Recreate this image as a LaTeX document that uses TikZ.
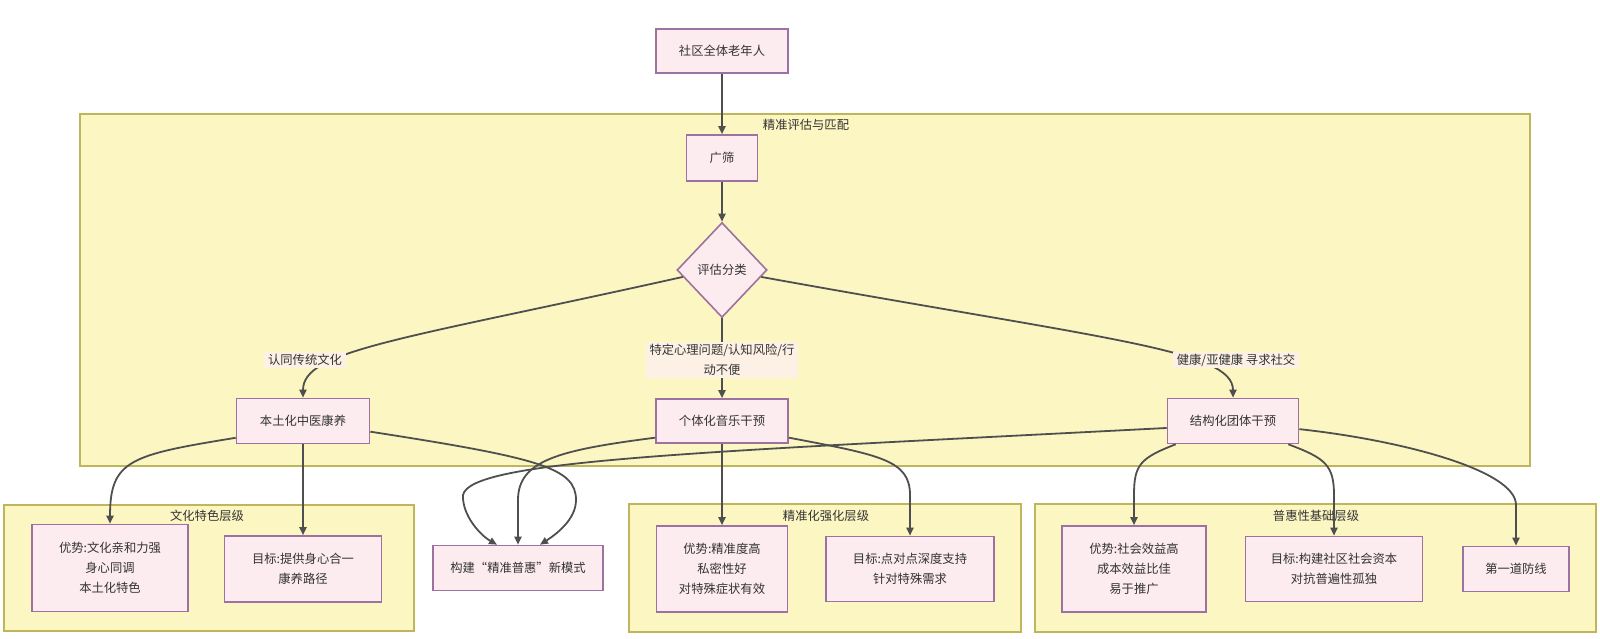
\documentclass[tikz,border=0pt]{standalone}
\usepackage{fontspec}
\setmainfont{Noto Sans CJK SC}
\usepackage{tikz}
\usepackage{xcolor}
\definecolor{boxfill}{HTML}{FCEBEF}
\definecolor{boxline}{HTML}{9E72A0}
\definecolor{layerfill}{HTML}{FCF6C2}
\definecolor{layerline}{HTML}{BFB65C}
\definecolor{flowgray}{HTML}{4F4F4F}
\definecolor{tagfill}{HTML}{FCF1E4}
\definecolor{textgray}{HTML}{333333}
\tikzset{every node/.style={font=\fontsize{12.3}{20}\selectfont, text=textgray},
 box/.style={draw=boxline, fill=boxfill, line width=1.6pt, align=center, inner sep=0pt},
 decision/.style={diamond, draw=boxline, fill=boxfill, line width=1.6pt, inner sep=0pt,
  minimum width=90pt, minimum height=95pt},
 layer/.style={draw=layerline, fill=layerfill, line width=1.6pt},
 flow/.style={draw=flowgray, line width=1.8pt, -{Triangle[length=8pt,width=7pt]}},
 tag/.style={fill=tagfill, inner xsep=4pt, inner ysep=2pt, align=center},
 }
\usetikzlibrary{shapes.geometric}
\usetikzlibrary{arrows.meta}

\begin{document}
\begin{tikzpicture}[x=1pt, y=-1pt]
        \useasboundingbox (0,0) rectangle (1600,638);
        \draw[layer] (80,114) rectangle (1530,466);
        \draw[layer] (4,505) rectangle (414,631);
        \draw[layer] (629,504) rectangle (1021,632);
        \draw[layer] (1035,504) rectangle (1596,632);
        \node (evaltitle) at (806,125) {精准评估与匹配};
        \node (culttitle) at (207,516) {文化特色层级};
        \node (precitle) at (826,516) {精准化强化层级};
        \node (basetitle) at (1316,516) {普惠性基础层级};

        \node[box, minimum width=132pt, minimum height=44pt] (elder) at (722,51) {社区全体老年人};
        \node[box, minimum width=71pt, minimum height=46pt] (screen) at (722,158) {广筛};
        \node[decision] (assess) at (722,270) {评估分类};
        \node[box, minimum width=133pt, minimum height=45pt] (tcm) at (303,421) {本土化中医康养};
        \node[box, minimum width=132pt, minimum height=44pt] (music) at (722,421) {个体化音乐干预};
        \node[box, minimum width=131pt, minimum height=45pt] (group) at (1233,421) {结构化团体干预};
        \node[box, minimum width=156pt, minimum height=87pt] (cadv) at (110,568) {优势:文化亲和力强\\身心同调\\本土化特色};
        \node[box, minimum width=157pt, minimum height=66pt] (cgoal) at (303,569) {目标:提供身心合一\\康养路径};
        \node[box, minimum width=170pt, minimum height=45pt] (model) at (518,568) {构建“精准普惠”新模式};
        \node[box, minimum width=131pt, minimum height=86pt] (padv) at (722,569) {优势:精准度高\\私密性好\\对特殊症状有效};
        \node[box, minimum width=168pt, minimum height=65pt] (pgoal) at (910,569) {目标:点对点深度支持\\针对特殊需求};
        \node[box, minimum width=144pt, minimum height=86pt] (sadv) at (1134,569) {优势:社会效益高\\成本效益比佳\\易于推广};
        \node[box, minimum width=177pt, minimum height=65pt] (sgoal) at (1334,569) {目标:构建社区社会资本\\对抗普遍性孤独};
        \node[box, minimum width=106pt, minimum height=45pt] (defense) at (1516,569) {第一道防线};

        \draw[flow] (elder) -- (screen);
        \draw[flow] (screen) -- (assess);
        \draw[flow] (assess.190) .. controls (400,340) and (303,350) .. (tcm.north);
        \draw[flow] (assess) -- (music);
        \draw[flow] (assess.-10) .. controls (1110,340) and (1233,350) .. (group.north);
        \draw[flow] (tcm.194) .. controls (130,455) and (110,460) .. (cadv.north);
        \draw[flow] (tcm) -- (cgoal);
        \draw[flow] (tcm.-9) .. controls (540,458) and (576,468) .. (576,500)
            .. controls (576,520) and (555,535) .. ([xshift=22pt]model.north);
        \draw[flow] (music.194) .. controls (560,450) and (518,460) .. (518,500) -- (model.north);
        \draw[flow] (group.186) .. controls (700,452) and (470,460) .. (463,495)
            .. controls (462,515) and (480,535) .. ([xshift=-21pt]model.north);
        \draw[flow] (music) -- (padv);
        \draw[flow] (music.-14) .. controls (880,455) and (910,460) .. (910,495) -- (pgoal.north);
        \draw[flow] ([xshift=9pt]group.south west) .. controls (1140,458) and (1134,465) .. (1134,495) -- (sadv.north);
        \draw[flow] ([xshift=-11pt]group.south east) .. controls (1325,458) and (1334,465) .. (1334,495) -- (sgoal.north);
        \draw[flow] (group.-7) .. controls (1400,440) and (1516,470) .. (1516,505) -- (defense.north);

        \node[tag] (culturetag) at (305,360) {认同传统文化};
        \node[tag] (specialtag) at (722,360) {特定心理问题/认知风险/行\\动不便};
        \node[tag] (healthytag) at (1236,360) {健康/亚健康 寻求社交};
    \end{tikzpicture}
\end{document}
